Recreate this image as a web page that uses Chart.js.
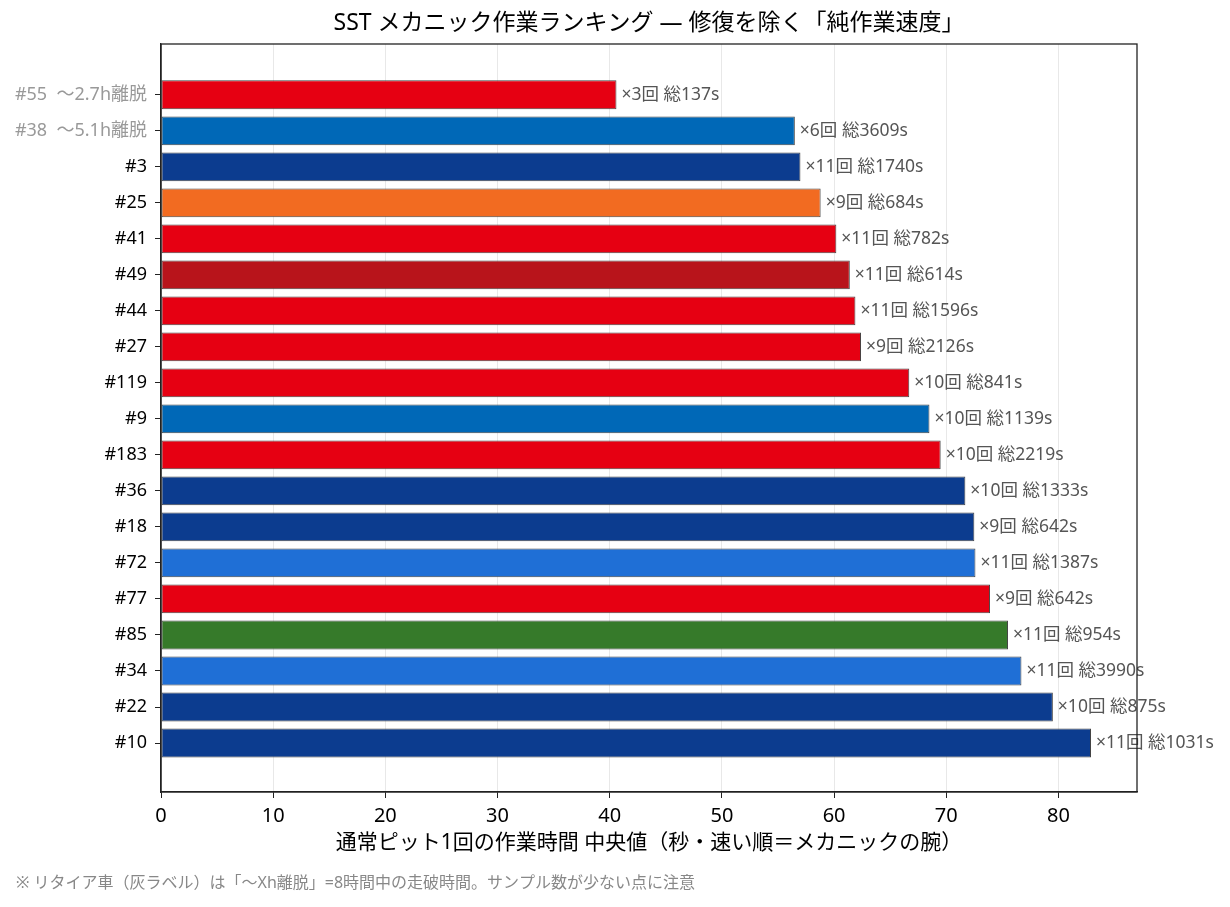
<!DOCTYPE html>
<html>
<head>
<meta charset="utf-8">
<script src="https://cdn.jsdelivr.net/npm/chart.js@4"></script>
<style>
  html, body { margin: 0; padding: 0; background: #fff; }
</style>
</head>
<body>
<canvas id="myChart" width="1230" height="907"></canvas>
<script>
// ranking, fastest at the top
const carLabels = ['#55  〜2.7h離脱', '#38  〜5.1h離脱', '#3', '#25', '#41', '#49', '#44', '#27', '#119', '#9',
  '#183', '#36', '#18', '#72', '#77', '#85', '#34', '#22', '#10'];
const retired = [true, true, false, false, false, false, false, false, false, false,
  false, false, false, false, false, false, false, false, false];
const medianSec = [40.6, 56.5, 57.0, 58.8, 60.2, 61.4, 61.9, 62.4, 66.7, 68.5,
  69.5, 71.7, 72.5, 72.6, 73.9, 75.5, 76.7, 79.5, 82.9];
const pitCount = [3, 6, 11, 9, 11, 11, 11, 9, 10, 10, 10, 10, 9, 11, 9, 11, 11, 10, 11];
const totalSec = [137, 3609, 1740, 684, 782, 614, 1596, 2126, 841, 1139, 2219, 1333, 642, 1387, 642, 954, 3990, 875, 1031];
const barColors = ['#e60012', '#0068b7', '#0c3c8f', '#f26b21', '#e60012', '#b8141b', '#e60012', '#e60012', '#e60012', '#0068b7',
  '#e60012', '#0c3c8f', '#0c3c8f', '#1f6fd6', '#e60012', '#367a2a', '#1f6fd6', '#0c3c8f', '#0c3c8f'];
const xTicks = [0, 10, 20, 30, 40, 50, 60, 70, 80];

const FONT = '"Noto Sans", "Noto Sans CJK JP", sans-serif';

// 回数・総時間のラベルと枠線
const extrasPlugin = {
  id: 'extras',
  afterDatasetsDraw(chart) {
    const ctx = chart.ctx;
    const meta = chart.getDatasetMeta(0);
    ctx.save();
    ctx.font = '17.5px ' + FONT;
    ctx.fillStyle = '#555';
    ctx.textAlign = 'left';
    ctx.textBaseline = 'middle';
    meta.data.forEach((bar, i) => {
      ctx.fillText('×' + pitCount[i] + '回 総' + totalSec[i] + 's', bar.x + 5, bar.y);
    });
    ctx.restore();
  },
  afterDraw(chart) {
    const ctx = chart.ctx;
    const a = chart.chartArea;
    ctx.save();
    ctx.strokeStyle = '#222';
    ctx.lineWidth = 1.3;
    ctx.strokeRect(a.left, a.top, a.right - a.left, a.bottom - a.top);
    ctx.font = '16px ' + FONT;
    ctx.fillStyle = '#888';
    ctx.textBaseline = 'middle';
    ctx.fillText('※ リタイア車（灰ラベル）は「〜Xh離脱」=8時間中の走破時間。サンプル数が少ない点に注意', 16, 883);
    ctx.restore();
  }
};

const ctx = document.getElementById('myChart').getContext('2d');
const myChart = new Chart(ctx, {
  type: 'bar',
  data: {
    datasets: [{
      data: medianSec.map((v, i) => ({ x: v, y: i })),
      backgroundColor: barColors,
      borderColor: '#444',
      borderWidth: 1,
      borderSkipped: false,
      barPercentage: 0.8,
      categoryPercentage: 1
    }]
  },
  options: {
    indexAxis: 'y',
    responsive: false,
    animation: false,
    layout: { padding: { top: 0, right: 93, bottom: 0, left: 0 } },
    scales: {
      x: {
        type: 'linear',
        min: 0,
        max: 87.0,
        z: 1,
        afterBuildTicks: (scale) => { scale.ticks = xTicks.map(v => ({ value: v })); },
        ticks: { font: { family: FONT, size: 20 }, color: '#000', padding: 6, includeBounds: false },
        grid: { color: 'rgba(190,190,190,0.35)', tickColor: '#222', tickLength: 6, lineWidth: 1 },
        border: { color: '#222', width: 1.3 },
        title: {
          display: true,
          text: '通常ピット1回の作業時間 中央値（秒・速い順＝メカニックの腕）',
          font: { family: FONT, size: 21 },
          color: '#000',
          padding: { top: 0, bottom: 51.5 }
        },
        afterFit: (scale) => { scale.height = 115; }
      },
      y: {
        type: 'linear',
        reverse: true,
        offset: false,
        min: -1.41,
        max: 19.36,
        afterBuildTicks: (scale) => { scale.ticks = carLabels.map((_, i) => ({ value: i })); },
        ticks: {
          font: { family: FONT, size: 18 },
          color: (c) => retired[c.index] ? '#999' : '#000',
          padding: 8,
          callback: (v) => carLabels[v]
        },
        grid: { offset: false, drawOnChartArea: false, tickColor: '#222', tickLength: 6 },
        border: { color: '#222', width: 1.3 },
        afterFit: (scale) => { scale.width = 161; }
      }
    },
    plugins: {
      legend: { display: false },
      tooltip: { enabled: false },
      title: {
        display: true,
        fullSize: false,
        text: 'SST メカニック作業ランキング — 修復を除く「純作業速度」',
        font: { family: FONT, size: 23, weight: 'normal' },
        color: '#000',
        padding: { top: 10, bottom: 6.4 }
      }
    }
  },
  plugins: [extrasPlugin]
});
</script>
</body>
</html>
